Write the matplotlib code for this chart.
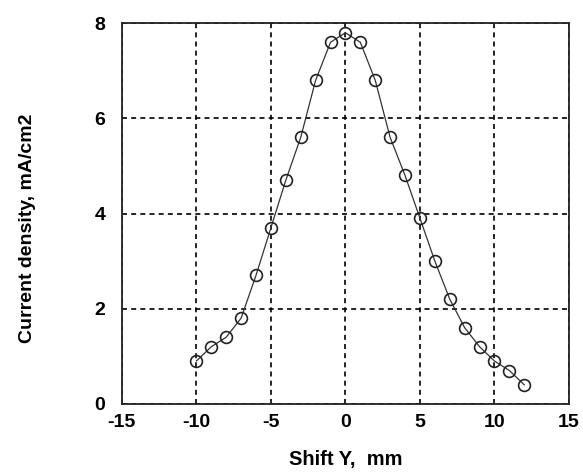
import matplotlib
matplotlib.use('Agg')
import matplotlib.pyplot as plt

shift_y = [-10, -9, -8, -7, -6, -5, -4, -3, -2, -1, 0, 1, 2, 3, 4, 5, 6, 7, 8, 9, 10, 11, 12]
current = [0.9, 1.2, 1.4, 1.8, 2.7, 3.7, 4.7, 5.6, 6.8, 7.6, 7.8, 7.6, 6.8, 5.6, 4.8, 3.9,
           3.0, 2.2, 1.6, 1.2, 0.9, 0.7, 0.4]
xticks = [-15, -10, -5, 0, 5, 10, 15]
yticks = [0, 2, 4, 6, 8]

plt.rcParams['font.family'] = ['Liberation Sans', 'DejaVu Sans']
plt.rcParams['font.weight'] = 'bold'
plt.rcParams['axes.unicode_minus'] = False

fig = plt.figure(figsize=(5.83, 4.74), dpi=100)
ax = fig.add_axes([0.209, 0.148, 0.767, 0.803])

ax.plot(shift_y, current, '-', color='#333333', lw=0.9, zorder=3)
ax.plot(shift_y, current, 'o', mfc='none', mec='#222222', mew=1.2, ms=8.5, zorder=4)

ax.set_xlim(-15, 15)
ax.set_ylim(0, 8)
ax.set_xticks(xticks)
ax.set_yticks(yticks)
ax.tick_params(length=0, labelsize=14)
ax.tick_params(axis='x', pad=7)
ax.tick_params(axis='y', pad=12)
for lab in ax.get_xticklabels() + ax.get_yticklabels():
    lab.set_fontweight('bold')

ax.grid(True, color='black', linestyle=(0, (3, 2.5)), lw=1.2)
for s in ax.spines.values():
    s.set_linewidth(1.3)
    s.set_color('#222222')

ax.set_xlabel('Shift Y,  mm', fontsize=14.5, fontweight='bold', labelpad=14)
ax.set_ylabel('Current density, mA/cm2', fontsize=14, fontweight='bold')
ax.yaxis.set_label_coords(-0.193, 0.46)

fig.savefig('out.png', dpi=100)
